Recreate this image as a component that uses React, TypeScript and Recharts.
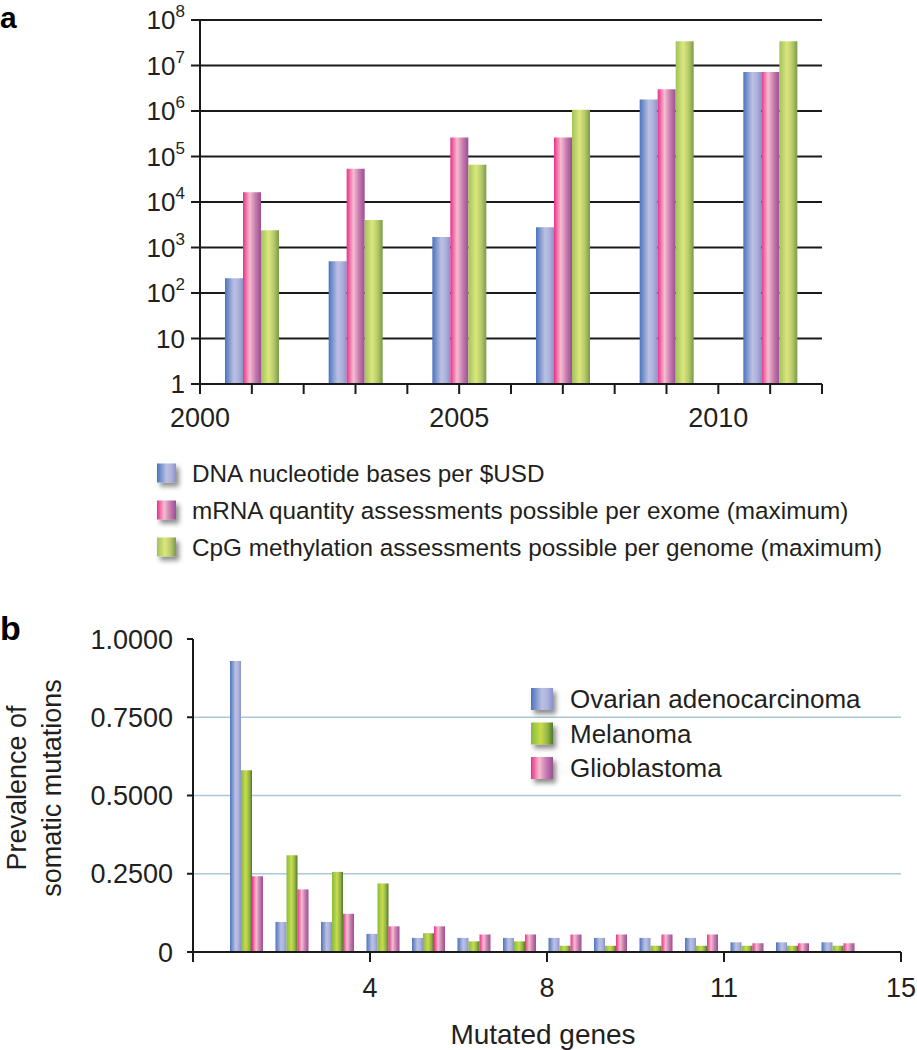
import React from 'react'
import { BarChart, Bar, XAxis, YAxis, CartesianGrid } from 'recharts'

const FONT = '"Liberation Sans", Arial, Helvetica, sans-serif'
const INK = '#231f20'

// ----- panel a: assessments per year (log scale) -----
const YEARS = [2001, 2003, 2005, 2007, 2009, 2011]
const DNA_PER_USD = [210, 500, 1700, 2800, 1800000, 7200000]
const MRNA_PER_EXOME = [16300, 54000, 263000, 263000, 3000000, 7200000]
const CPG_PER_GENOME = [2400, 4000, 66000, 1070000, 34000000, 34000000]
const YEAR_TICKS = [2000, 2001, 2002, 2003, 2004, 2005, 2006, 2007, 2008, 2009, 2010, 2011, 2012]
const YEAR_LABELS = [2000, 2005, 2010]
const LOG_TICKS = [1, 10, 100, 1000, 10000, 100000, 1000000, 10000000, 100000000]
const SERIES_A = [
  'DNA nucleotide bases per $USD',
  'mRNA quantity assessments possible per exome (maximum)',
  'CpG methylation assessments possible per genome (maximum)',
]

// ----- panel b: prevalence of somatic mutations -----
const GENES = ['1', '2', '3', '4', '5', '6', '7', '8', '9', '10', '11', '12', '13', '14']
const OVARIAN = [0.93, 0.096, 0.096, 0.058, 0.045, 0.045, 0.045, 0.045, 0.045, 0.045, 0.045, 0.031, 0.031, 0.031]
const MELANOMA = [0.581, 0.309, 0.256, 0.219, 0.06, 0.034, 0.034, 0.02, 0.02, 0.02, 0.02, 0.02, 0.02, 0.02]
const GLIOBLASTOMA = [0.242, 0.2, 0.122, 0.082, 0.082, 0.056, 0.056, 0.056, 0.056, 0.056, 0.056, 0.028, 0.028, 0.028]
const GENE_TICK_LABELS = ['', '4', '8', '11', '15']
const PREV_TICKS = [0, 0.25, 0.5, 0.75, 1]
const SERIES_B = ['Ovarian adenocarcinoma', 'Melanoma', 'Glioblastoma']

const dataA = YEARS.map((year, i) => ({
  year,
  dna: DNA_PER_USD[i],
  mrna: MRNA_PER_EXOME[i],
  cpg: CPG_PER_GENOME[i],
}))

const dataB = GENES.map((gene, i) => ({
  gene,
  ovarian: OVARIAN[i],
  melanoma: MELANOMA[i],
  glio: GLIOBLASTOMA[i],
}))

const AXIS = { stroke: '#1a1a1a', strokeWidth: 2 }

function PowerTick(props: any) {
  const { x, y, payload } = props
  const exp = Math.round(Math.log10(payload.value))
  return (
    <text x={x} y={y} dy="0.36em" textAnchor="end" fill={INK} fontSize={26} fontFamily={FONT}>
      {exp === 0 ? '1' : '10'}
      {exp > 1 && <tspan dy={-12} fontSize={17}>{exp}</tspan>}
    </text>
  )
}

function YTitle() {
  return (
    <g fontFamily={FONT} fontSize={27} fill={INK} textAnchor="middle">
      <text transform="translate(26,188) rotate(-90)">Prevalence of</text>
      <text transform="translate(61,188) rotate(-90)">somatic mutations</text>
    </g>
  )
}

export default function App() {
  const legendA = [
    { name: SERIES_A[0], fill: 'url(#gBlue)' },
    { name: SERIES_A[1], fill: 'url(#gPink)' },
    { name: SERIES_A[2], fill: 'url(#gGreen)' },
  ]
  const legendB = [
    { name: SERIES_B[0], fill: 'url(#gBlue)' },
    { name: SERIES_B[1], fill: 'url(#gGreenB)' },
    { name: SERIES_B[2], fill: 'url(#gPink)' },
  ]

  return (
    <div style={{ position: 'absolute', left: 0, top: 0, width: 917, height: 1050, background: '#fff' }}>
      {/* shared gradients */}
      <svg width={0} height={0} style={{ position: 'absolute' }}>
        <defs>
          <linearGradient id="gBlue" x1="0" x2="1" y1="0" y2="0">
            <stop offset="0%" stopColor="#4a74bd" />
            <stop offset="50%" stopColor="#bcc0e3" />
            <stop offset="75%" stopColor="#adb2dc" />
            <stop offset="100%" stopColor="#8892cb" />
          </linearGradient>
          <linearGradient id="gPink" x1="0" x2="1" y1="0" y2="0">
            <stop offset="0%" stopColor="#e8308a" />
            <stop offset="38%" stopColor="#f6bdd0" />
            <stop offset="70%" stopColor="#c57aae" />
            <stop offset="100%" stopColor="#9a4f94" />
          </linearGradient>
          <linearGradient id="gGreen" x1="0" x2="1" y1="0" y2="0">
            <stop offset="0%" stopColor="#a2c35a" />
            <stop offset="42%" stopColor="#dce67e" />
            <stop offset="72%" stopColor="#b5ca68" />
            <stop offset="100%" stopColor="#7b9a4c" />
          </linearGradient>
          <linearGradient id="gGreenB" x1="0" x2="1" y1="0" y2="0">
            <stop offset="0%" stopColor="#86bb3e" />
            <stop offset="45%" stopColor="#c9dc4c" />
            <stop offset="75%" stopColor="#93b447" />
            <stop offset="100%" stopColor="#4f7a2e" />
          </linearGradient>
          <filter id="legShadow" x="-50%" y="-50%" width="200%" height="200%">
            <feDropShadow dx="3" dy="4" stdDeviation="2.5" floodColor="#000" floodOpacity="0.45" />
          </filter>
        </defs>
      </svg>

      {/* Panel a */}
      <div style={{ position: 'absolute', left: 0, top: 0 }}>
        <BarChart width={917} height={440} data={dataA} margin={{ top: 20, right: 95, bottom: 0, left: 0 }} barSize={18} barGap={0}>
          <CartesianGrid vertical={false} stroke="#1a1a1a" strokeWidth={2} />
          <XAxis
            dataKey="year"
            type="number"
            domain={[2000, 2012]}
            allowDataOverflow
            ticks={YEAR_TICKS}
            interval={0}
            tickFormatter={(v: number) => (YEAR_LABELS.includes(v) ? String(v) : '')}
            height={56}
            axisLine={AXIS}
            tickLine={AXIS}
            tickSize={10}
            tickMargin={14}
            tick={{ fontSize: 27, fill: INK, fontFamily: FONT }}
          />
          <YAxis
            type="number"
            scale="log"
            domain={[1, 100000000]}
            allowDataOverflow
            ticks={LOG_TICKS}
            interval={0}
            width={200}
            axisLine={AXIS}
            tickLine={AXIS}
            tickSize={9}
            tickMargin={6}
            tick={<PowerTick />}
          />
          <Bar dataKey="dna" fill="url(#gBlue)" isAnimationActive={false} />
          <Bar dataKey="mrna" fill="url(#gPink)" isAnimationActive={false} />
          <Bar dataKey="cpg" fill="url(#gGreen)" isAnimationActive={false} />
        </BarChart>
      </div>

      {/* Panel b */}
      <div style={{ position: 'absolute', left: 0, top: 600 }}>
        <BarChart width={917} height={450} data={dataB} margin={{ top: 39, right: 16, bottom: 0, left: 0 }} barSize={11} barGap={0}>
          <CartesianGrid vertical={false} horizontalValues={[0.25, 0.5, 0.75]} stroke="#a9c8d8" strokeWidth={1.5} />
          <XAxis
            xAxisId="lab"
            dataKey="tickPos"
            type="number"
            domain={[0, 4]}
            allowDataOverflow
            ticks={[0, 1, 2, 3, 4]}
            interval={0}
            tickFormatter={(i: number) => GENE_TICK_LABELS[i]}
            height={98}
            axisLine={AXIS}
            tickLine={AXIS}
            tickSize={10}
            tickMargin={16}
            tick={{ fontSize: 27, fill: INK, fontFamily: FONT }}
            label={{ value: 'Mutated genes', position: 'insideBottom', offset: 6, dx: -4, fontSize: 28, fill: INK, fontFamily: FONT }}
          />
          <XAxis dataKey="gene" hide height={0} padding={{ left: 31, right: 40 }} />
          <YAxis
            type="number"
            domain={[0, 1]}
            ticks={PREV_TICKS}
            interval={0}
            width={193}
            tickFormatter={(v: number) => (v === 0 ? '0' : v.toFixed(4))}
            axisLine={AXIS}
            tickLine={AXIS}
            tickSize={6}
            tickMargin={14}
            tick={{ fontSize: 27, fill: INK, fontFamily: FONT }}
            label={{ content: () => <YTitle /> }}
          />
          <Bar dataKey="ovarian" fill="url(#gBlue)" isAnimationActive={false} />
          <Bar dataKey="melanoma" fill="url(#gGreenB)" isAnimationActive={false} />
          <Bar dataKey="glio" fill="url(#gPink)" isAnimationActive={false} />
        </BarChart>
      </div>

      {/* panel letters and legends */}
      <svg width={917} height={1050} style={{ position: 'absolute', left: 0, top: 0, pointerEvents: 'none' }} fontFamily={FONT}>
        <text x={0} y={28} fontSize={30} fontWeight="bold" fill="#000">a</text>
        <text x={0} y={640} fontSize={34} fontWeight="bold" fill="#000">b</text>
        {legendA.map((s, i) => {
          const cy = 473 + i * 37
          return (
            <g key={s.name}>
              <rect x={157} y={cy - 9.5} width={19} height={19} fill={s.fill} filter="url(#legShadow)" />
              <text x={192} y={cy} dy="0.35em" fontSize={24.3} fill={INK}>{s.name}</text>
            </g>
          )
        })}
        {legendB.map((s, i) => {
          const cy = 699 + i * 34.5
          return (
            <g key={s.name}>
              <rect x={531} y={cy - 11} width={22} height={22} fill={s.fill} filter="url(#legShadow)" />
              <text x={570} y={cy} dy="0.35em" fontSize={26} fill={INK}>{s.name}</text>
            </g>
          )
        })}
      </svg>
    </div>
  )
}
